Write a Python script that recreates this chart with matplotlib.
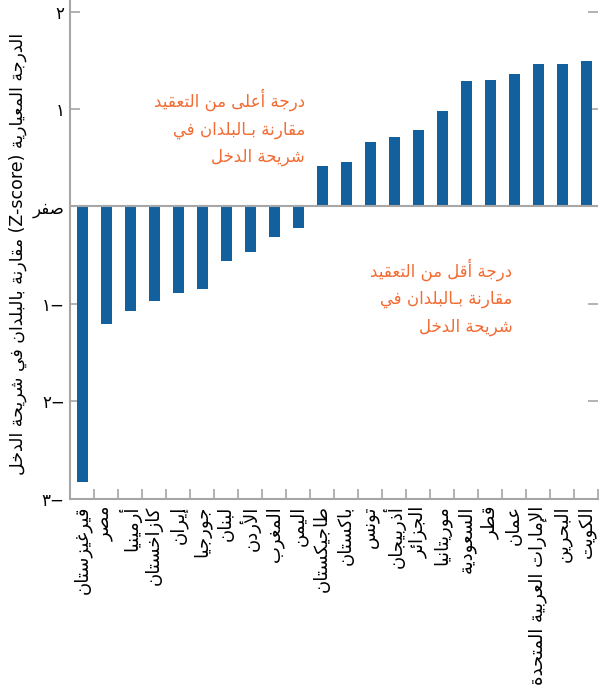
import re
import matplotlib
matplotlib.use("Agg")
import matplotlib.pyplot as plt
import numpy as np

# data (z-scores, ordered as drawn left to right)
countries = ["قيرغيزستان", "مصر", "أرمينيا", "كازاخستان", "إيران", "جورجيا",
             "لبنان", "الأردن", "المغرب", "اليمن", "طاجيكستان", "باكستان",
             "تونس", "أذربيجان", "الجزائر", "موريتانيا", "السعودية", "قطر",
             "عمان", "الإمارات العربية المتحدة", "البحرين", "الكويت"]
zscores = [-2.83, -1.21, -1.07, -0.97, -0.89, -0.85, -0.56, -0.47, -0.31, -0.225,
           0.42, 0.46, 0.66, 0.71, 0.78, 0.98, 1.29, 1.30, 1.36, 1.46, 1.46, 1.495]
ytick_vals = [2, 1, 0, -1, -2, -3]
ytick_labels = ["٢", "١", "صفر", "−١", "−٢", "−٣"]
ylabel = "الدرجة المعيارية (Z-score) مقارنة بالبلدان في شريحة الدخل"
note_high = "درجة أعلى من التعقيد\nمقارنة بـالبلدان في\nشريحة الدخل"
note_low = "درجة أقل من التعقيد\nمقارنة بـالبلدان في\nشريحة الدخل"

BLUE = "#13609e"
ORANGE = "#f26b32"
GREY = "#a6a6a6"

# matplotlib has no arabic shaping, so map letters to presentation forms
DUAL = {0x0626: 0xFE89, 0x0628: 0xFE8F, 0x062A: 0xFE95, 0x062B: 0xFE99, 0x062C: 0xFE9D,
        0x062D: 0xFEA1, 0x062E: 0xFEA5, 0x0633: 0xFEB1, 0x0634: 0xFEB5, 0x0635: 0xFEB9,
        0x0636: 0xFEBD, 0x0637: 0xFEC1, 0x0638: 0xFEC5, 0x0639: 0xFEC9, 0x063A: 0xFECD,
        0x0641: 0xFED1, 0x0642: 0xFED5, 0x0643: 0xFED9, 0x0644: 0xFEDD, 0x0645: 0xFEE1,
        0x0646: 0xFEE5, 0x0647: 0xFEE9, 0x064A: 0xFEF1}
RIGHT = {0x0622: 0xFE81, 0x0623: 0xFE83, 0x0624: 0xFE85, 0x0625: 0xFE87, 0x0627: 0xFE8D,
         0x0629: 0xFE93, 0x062F: 0xFEA9, 0x0630: 0xFEAB, 0x0631: 0xFEAD, 0x0632: 0xFEAF,
         0x0648: 0xFEED, 0x0649: 0xFEEF}
LAMALEF = {0x0622: 0xFEF5, 0x0623: 0xFEF7, 0x0625: 0xFEF9, 0x0627: 0xFEFB}
TATWEEL = 0x0640


def joining(c):
    o = ord(c)
    return o in DUAL or o in RIGHT or o == TATWEEL


def shape(s):
    out = []
    prev = False
    i = 0
    while i < len(s):
        o = ord(s[i])
        nxt = s[i + 1] if i + 1 < len(s) else ""
        if o == 0x0644 and nxt and ord(nxt) in LAMALEF:
            out.append(chr(LAMALEF[ord(nxt)] + (1 if prev else 0)))
            prev = False
            i += 2
            continue
        if o in DUAL:
            nj = bool(nxt) and joining(nxt)
            form = 3 if (prev and nj) else 1 if prev else 2 if nj else 0
            out.append(chr(DUAL[o] + form))
            prev = True
        elif o in RIGHT:
            out.append(chr(RIGHT[o] + (1 if prev else 0)))
            prev = False
        elif o == TATWEEL:
            out.append(s[i])
            prev = True
        else:
            out.append(s[i])
            prev = False
        i += 1
    return "".join(out)


def rtl(text):
    lines = []
    for line in text.split("\n"):
        v = shape(line)[::-1]
        v = re.sub(r"[A-Za-z0-9][A-Za-z0-9\-]*", lambda m: m.group(0)[::-1], v)
        v = v.translate({ord("("): ")", ord(")"): "("})
        lines.append(v)
    return "\n".join(lines)


plt.rcParams['font.family'] = ['DejaVu Sans']

fig = plt.figure(figsize=(6, 6.92), dpi=100)
ax = fig.add_axes([0.117, 0.2796, 0.88, 0.7204])

x = np.arange(len(countries))
ax.bar(x, zscores, width=0.45, color=BLUE, zorder=2)
ax.axhline(0, color=GREY, lw=1.5, zorder=3)

ax.set_xlim(-0.5, len(countries) - 0.5)
ax.set_ylim(-3, 2.12)

for side in ["top", "right"]:
    ax.spines[side].set_visible(False)
for side in ["left", "bottom"]:
    ax.spines[side].set_color(GREY)
    ax.spines[side].set_linewidth(1.5)

ax.set_yticks(ytick_vals)
ax.set_yticklabels([rtl(t) for t in ytick_labels], fontsize=12)
ax.tick_params(axis="y", direction="in", length=7, width=1.2, color=GREY,
               right=True, pad=4)

ax.set_xticks(x)
ax.set_xticklabels([rtl(c) for c in countries], rotation=90, fontsize=13,
                   va="top", ha="center")
ax.tick_params(axis="x", which="major", length=0, pad=5)
ax.set_xticks(np.arange(len(countries) + 1) - 0.5, minor=True)
ax.tick_params(axis="x", which="minor", direction="in", length=7, width=1.2,
               color=GREY)

fig.text(0.03, 0.633, rtl(ylabel), rotation=90, ha="center", va="center",
         fontsize=12.5)

ax.text(9.29, 0.81, rtl(note_high), ha="right", va="center", color=ORANGE,
        fontsize=12, linespacing=1.65)
ax.text(17.92, -0.93, rtl(note_low), ha="right", va="center", color=ORANGE,
        fontsize=12, linespacing=1.65)

fig.savefig("out.png", dpi=100)
